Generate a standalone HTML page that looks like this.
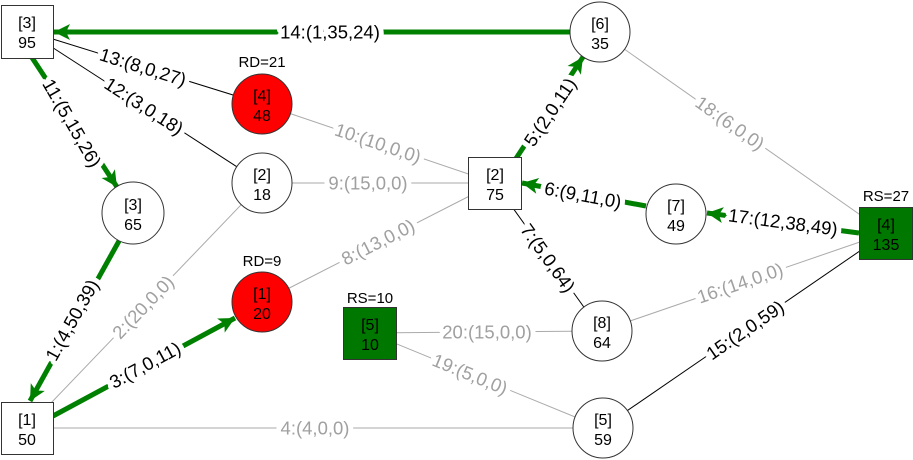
<!DOCTYPE html>
<html><head><meta charset="utf-8"><style>
html,body{margin:0;padding:0;background:#fff;}
svg{display:block;font-family:"Liberation Sans",Arial,sans-serif;}
.lb{font-size:18.5px;text-anchor:middle;dominant-baseline:central;paint-order:stroke;stroke:#fff;stroke-width:10px;stroke-linejoin:round;}
.k{fill:#000;}
.g{fill:#a0a0a0;}
.n{font-size:16px;text-anchor:middle;fill:#000;}
</style></head><body>
<svg width="913" height="460" viewBox="0 0 913 460" xmlns="http://www.w3.org/2000/svg">
<defs>
<marker id="ar" markerUnits="userSpaceOnUse" markerWidth="20" markerHeight="20" refX="16" refY="8" orient="auto">
<path d="M0,0 L16,8 L0,16 L4,8 Z" fill="#008000"/>
</marker>
</defs>
<g stroke-width="1" fill="none">
<line x1="27" y1="31" x2="262" y2="104" stroke="#000"/>
<line x1="27" y1="31" x2="262" y2="183" stroke="#000"/>
<line x1="262" y1="104" x2="495" y2="183" stroke="#aaa"/>
<line x1="262" y1="183" x2="495" y2="183" stroke="#aaa"/>
<line x1="262" y1="302" x2="495" y2="183" stroke="#aaa"/>
<line x1="27" y1="428" x2="262" y2="183" stroke="#aaa"/>
<line x1="27" y1="428" x2="602" y2="428" stroke="#aaa"/>
<line x1="495" y1="183" x2="601" y2="331" stroke="#000"/>
<line x1="370" y1="333" x2="601" y2="331" stroke="#aaa"/>
<line x1="370" y1="333" x2="602" y2="428" stroke="#aaa"/>
<line x1="600" y1="32" x2="886" y2="233" stroke="#aaa"/>
<line x1="601" y1="331" x2="886" y2="233" stroke="#aaa"/>
<line x1="602" y1="428" x2="886" y2="233" stroke="#000"/>
</g>
<g stroke="#008000" stroke-width="5" fill="none" marker-end="url(#ar)">
<line x1="570" y1="32" x2="54" y2="32"/>
<line x1="27" y1="50" x2="117" y2="187"/>
<line x1="119" y1="241" x2="30" y2="401"/>
<line x1="53" y1="416" x2="235" y2="318"/>
<line x1="515" y1="160" x2="583" y2="57"/>
<line x1="646" y1="206" x2="522" y2="183"/>
<line x1="859" y1="233" x2="707" y2="213"/>
</g>
<text class="lb k" x="330" y="32">14:(1,35,24)</text>
<text class="lb k" transform="translate(143,67) rotate(17.3)">13:(8,0,27)</text>
<text class="lb k" transform="translate(144,106) rotate(32.9)">12:(3,0,18)</text>
<text class="lb k" transform="translate(72,123) rotate(60)">11:(5,15,26)</text>
<text class="lb g" transform="translate(378,143) rotate(18.7)">10:(10,0,0)</text>
<text class="lb g" x="368" y="183">9:(15,0,0)</text>
<text class="lb g" transform="translate(378,242) rotate(-27)">8:(13,0,0)</text>
<text class="lb k" transform="translate(550,112) rotate(-56)">5:(2,0,11)</text>
<text class="lb k" transform="translate(583,195) rotate(10.5)">6:(9,11,0)</text>
<text class="lb k" transform="translate(548,258) rotate(54.4)">7:(5,0,64)</text>
<text class="lb g" transform="translate(730,123) rotate(35.1)">18:(6,0,0)</text>
<text class="lb k" transform="translate(783,222) rotate(7.5)">17:(12,38,49)</text>
<text class="lb g" transform="translate(740,283) rotate(-19)">16:(14,0,0)</text>
<text class="lb k" transform="translate(745,330) rotate(-34.5)">15:(2,0,59)</text>
<text class="lb g" x="487" y="332">20:(15,0,0)</text>
<text class="lb g" transform="translate(470,374) rotate(22.3)">19:(5,0,0)</text>
<text class="lb g" x="315" y="428">4:(4,0,0)</text>
<text class="lb g" transform="translate(143,307) rotate(-46.2)">2:(20,0,0)</text>
<text class="lb k" transform="translate(72,320) rotate(-60.9)">1:(4,50,39)</text>
<text class="lb k" transform="translate(145,365) rotate(-28.3)">3:(7,0,11)</text>
<g stroke="#333" stroke-width="1">
<rect x="1.5" y="5.5" width="52" height="53" fill="#fff"/>
<circle cx="600" cy="32" r="30" fill="#fff"/>
<circle cx="262" cy="104" r="30" fill="#f00"/>
<circle cx="262" cy="183" r="30" fill="#fff"/>
<circle cx="133" cy="213" r="31" fill="#fff"/>
<rect x="468.5" y="157.5" width="53" height="52" fill="#fff"/>
<circle cx="676" cy="214" r="30" fill="#fff"/>
<rect x="859.5" y="207.5" width="53" height="52" fill="#007800"/>
<circle cx="262" cy="302" r="30" fill="#f00"/>
<rect x="343.5" y="307.5" width="53" height="52" fill="#007800"/>
<circle cx="602" cy="331" r="30" fill="#fff"/>
<rect x="1.5" y="402.5" width="52" height="52" fill="#fff"/>
<circle cx="603" cy="428" r="30" fill="#fff"/>
</g>
<g class="n">
<text x="27" y="28">[3]</text><text x="27" y="48">95</text>
<text x="600" y="29">[6]</text><text x="600" y="49">35</text>
<text x="262" y="67" style="font-size:15px">RD=21</text>
<text x="262" y="101">[4]</text><text x="262" y="121">48</text>
<text x="262" y="180">[2]</text><text x="262" y="200">18</text>
<text x="133" y="210">[3]</text><text x="133" y="230">65</text>
<text x="495" y="180">[2]</text><text x="495" y="200">75</text>
<text x="676" y="211">[7]</text><text x="676" y="231">49</text>
<text x="886" y="201" style="font-size:15px">RS=27</text>
<text x="886" y="230">[4]</text><text x="886" y="250">135</text>
<text x="262" y="266" style="font-size:15px">RD=9</text>
<text x="262" y="299">[1]</text><text x="262" y="319">20</text>
<text x="370" y="303" style="font-size:15px">RS=10</text>
<text x="370" y="330">[5]</text><text x="370" y="350">10</text>
<text x="602" y="328">[8]</text><text x="602" y="348">64</text>
<text x="27" y="425">[1]</text><text x="27" y="445">50</text>
<text x="603" y="425">[5]</text><text x="603" y="445">59</text>
</g>
</svg>
</body></html>
